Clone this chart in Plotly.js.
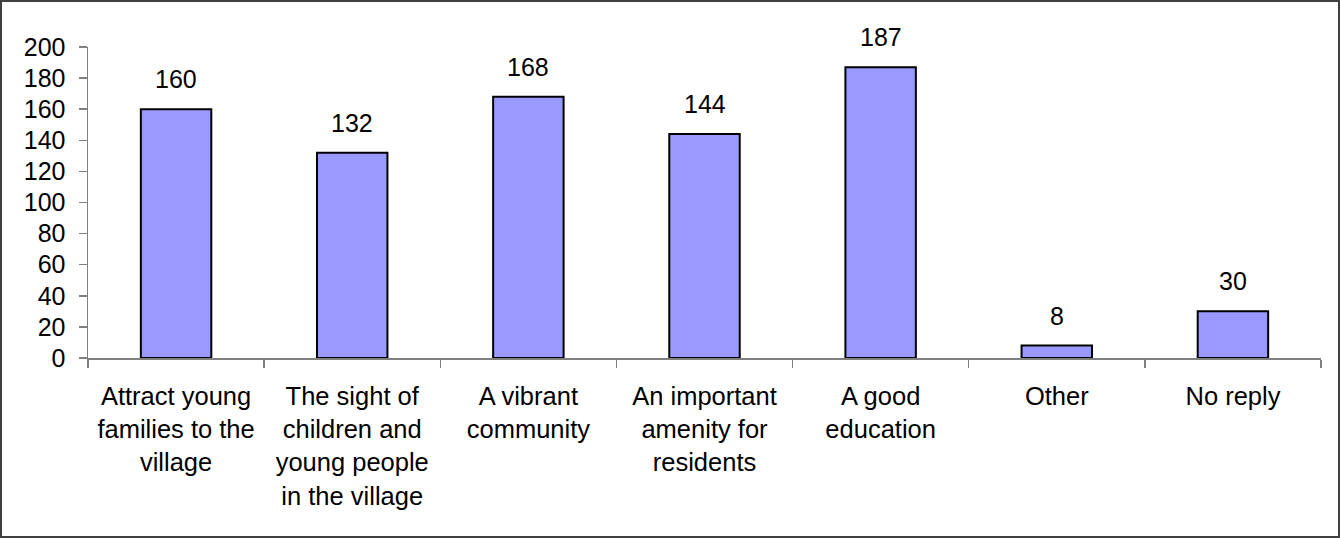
<!DOCTYPE html>
<html>
<head>
<meta charset="utf-8">
<script src="https://cdn.plot.ly/plotly-3.0.1.min.js"></script>
<style>
html,body{margin:0;padding:0;background:#fff;}
#wrap{position:relative;width:1340px;height:538px;}
#chart{width:1340px;height:538px;}
#frame{position:absolute;left:0;top:0;width:1340px;height:538px;box-sizing:border-box;border:2px solid #404040;pointer-events:none;}
</style>
</head>
<body>
<div id="wrap"><div id="chart"></div><div id="frame"></div></div>
<script>
const categories = [
  "Attract young<br>families to the<br>village",
  "The sight of<br>children and<br>young people<br>in the village",
  "A vibrant<br>community",
  "An important<br>amenity for<br>residents",
  "A good<br>education",
  "Other",
  "No reply"
];
const values = [160, 132, 168, 144, 187, 8, 30];
const yTicks = [0, 20, 40, 60, 80, 100, 120, 140, 160, 180, 200];

const font = {family: "Liberation Sans, Arial, sans-serif", size: 25, color: "#000"};
const xfont = {family: "Liberation Sans, Arial, sans-serif", size: 25.5, color: "#000"};

const trace = {
  type: "bar",
  x: categories,
  y: values,
  width: 0.4,
  marker: {color: "#9999FF", line: {color: "#000", width: 2}},
  hoverinfo: "none"
};

const annotations = categories.map((c, i) => ({
  x: c, y: values[i], xref: "x", yref: "y",
  text: String(values[i]), showarrow: false,
  yanchor: "bottom", yshift: 14, font: font
}));

const layout = {
  width: 1340, height: 538,
  margin: {l: 88, r: 19, t: 47, b: 180},
  paper_bgcolor: "#fff", plot_bgcolor: "#fff",
  font: font,
  showlegend: false,
  bargap: 0.6,
  xaxis: {
    type: "category",
    showline: true, linecolor: "#808080", linewidth: 1.5,
    ticks: "outside", ticklen: 8, tickcolor: "#808080", tickwidth: 1.5,
    tickson: "boundaries",
    showgrid: false, zeroline: false,
    tickfont: xfont,
    ticklabelstandoff: 15
  },
  yaxis: {
    range: [0, 200],
    tickvals: yTicks,
    ticktext: yTicks.map(String),
    showline: true, linecolor: "#808080", linewidth: 1.5,
    ticks: "outside", ticklen: 8, tickcolor: "#808080", tickwidth: 1.5,
    showgrid: false, zeroline: false,
    tickfont: font,
    ticklabelstandoff: 8
  },
  annotations: annotations
};

Plotly.newPlot("chart", [trace], layout, {staticPlot: true});
</script>
</body>
</html>
